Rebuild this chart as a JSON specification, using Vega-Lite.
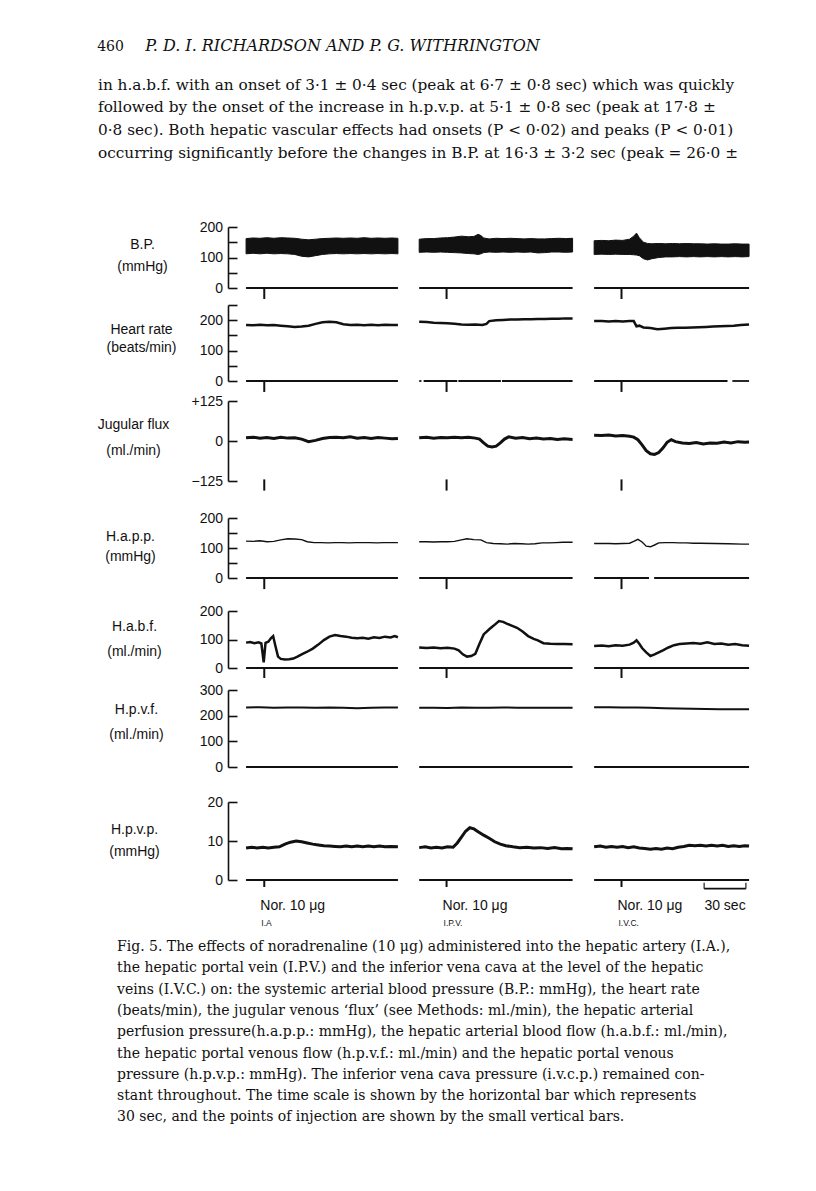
{
"$schema": "https://vega.github.io/schema/vega-lite/v6.json",
"background": "white",
"padding": {"left": 97, "top": 37, "right": 10, "bottom": 10},
"title": {"text": "460", "anchor": "start", "frame": "bounds", "font": "DejaVu Serif", "fontSize": 14, "fontWeight": "normal", "color": "#111", "offset": -16},
"datasets": {
"inj": [{"t": 26.1}, {"t": 157.3}, {"t": 283.2}],
"base": [
{"r":"bp","t0":13,"t1":122.3},{"r":"bp","t0":137.6,"t1":248},{"r":"bp","t0":263.5,"t1":375},
{"r":"hr","t0":13,"t1":122.3},{"r":"hr","t0":137.6,"t1":139.2},{"r":"hr","t0":140.8,"t1":165},{"r":"hr","t0":165.8,"t1":196.4},{"r":"hr","t0":197.2,"t1":248},{"r":"hr","t0":263.5,"t1":359.5},{"r":"hr","t0":363,"t1":375},
{"r":"happ","t0":13,"t1":122.3},{"r":"happ","t0":137.6,"t1":248},{"r":"happ","t0":263.5,"t1":303},{"r":"happ","t0":306.7,"t1":375},
{"r":"habf","t0":13,"t1":122.3},{"r":"habf","t0":137.6,"t1":248},{"r":"habf","t0":263.5,"t1":375},
{"r":"hpvf","t0":13,"t1":122.3},{"r":"hpvf","t0":137.6,"t1":248},{"r":"hpvf","t0":263.5,"t1":375},
{"r":"hpvp","t0":13,"t1":122.3},{"r":"hpvp","t0":137.6,"t1":248},{"r":"hpvp","t0":263.5,"t1":375}
],
"bp": [
{"s":1,"t":13,"lo":112,"hi":162},{"s":1,"t":18,"lo":114,"hi":164},{"s":1,"t":23,"lo":112,"hi":163},{"s":1,"t":28,"lo":114,"hi":165},{"s":1,"t":33,"lo":112,"hi":163},{"s":1,"t":38,"lo":113,"hi":165},{"s":1,"t":43,"lo":112,"hi":164},{"s":1,"t":48,"lo":110,"hi":163},{"s":1,"t":53,"lo":104,"hi":160},{"s":1,"t":58,"lo":102,"hi":158},{"s":1,"t":63,"lo":106,"hi":160},{"s":1,"t":68,"lo":110,"hi":162},{"s":1,"t":73,"lo":112,"hi":163},{"s":1,"t":78,"lo":113,"hi":164},{"s":1,"t":83,"lo":112,"hi":163},{"s":1,"t":88,"lo":113,"hi":164},{"s":1,"t":93,"lo":112,"hi":163},{"s":1,"t":98,"lo":113,"hi":165},{"s":1,"t":103,"lo":112,"hi":163},{"s":1,"t":108,"lo":113,"hi":164},{"s":1,"t":113,"lo":112,"hi":163},{"s":1,"t":118,"lo":113,"hi":164},{"s":1,"t":122.3,"lo":112,"hi":163},
{"s":2,"t":137.6,"lo":117,"hi":160},{"s":2,"t":143,"lo":118,"hi":162},{"s":2,"t":148,"lo":117,"hi":162},{"s":2,"t":153,"lo":118,"hi":164},{"s":2,"t":158,"lo":117,"hi":165},{"s":2,"t":163,"lo":116,"hi":167},{"s":2,"t":168,"lo":115,"hi":170},{"s":2,"t":173,"lo":113,"hi":168},{"s":2,"t":177,"lo":112,"hi":169},{"s":2,"t":180,"lo":110,"hi":176},{"s":2,"t":182,"lo":112,"hi":172},{"s":2,"t":184,"lo":116,"hi":164},{"s":2,"t":188,"lo":118,"hi":161},{"s":2,"t":193,"lo":117,"hi":163},{"s":2,"t":198,"lo":118,"hi":162},{"s":2,"t":203,"lo":117,"hi":163},{"s":2,"t":208,"lo":118,"hi":162},{"s":2,"t":213,"lo":117,"hi":161},{"s":2,"t":218,"lo":118,"hi":162},{"s":2,"t":223,"lo":115,"hi":161},{"s":2,"t":228,"lo":116,"hi":161},{"s":2,"t":233,"lo":118,"hi":162},{"s":2,"t":238,"lo":118,"hi":163},{"s":2,"t":243,"lo":117,"hi":162},{"s":2,"t":248,"lo":118,"hi":163},
{"s":3,"t":263.5,"lo":110,"hi":155},{"s":3,"t":269,"lo":111,"hi":156},{"s":3,"t":274,"lo":110,"hi":155},{"s":3,"t":279,"lo":111,"hi":157},{"s":3,"t":284,"lo":110,"hi":156},{"s":3,"t":289,"lo":110,"hi":160},{"s":3,"t":292,"lo":109,"hi":170},{"s":3,"t":294,"lo":108,"hi":180},{"s":3,"t":296,"lo":106,"hi":165},{"s":3,"t":299,"lo":96,"hi":150},{"s":3,"t":302,"lo":92,"hi":146},{"s":3,"t":305,"lo":96,"hi":145},{"s":3,"t":310,"lo":100,"hi":146},{"s":3,"t":315,"lo":102,"hi":145},{"s":3,"t":320,"lo":102,"hi":146},{"s":3,"t":325,"lo":103,"hi":145},{"s":3,"t":330,"lo":102,"hi":146},{"s":3,"t":335,"lo":103,"hi":145},{"s":3,"t":340,"lo":102,"hi":145},{"s":3,"t":345,"lo":103,"hi":144},{"s":3,"t":350,"lo":102,"hi":145},{"s":3,"t":355,"lo":103,"hi":144},{"s":3,"t":360,"lo":102,"hi":144},{"s":3,"t":365,"lo":103,"hi":145},{"s":3,"t":370,"lo":102,"hi":144},{"s":3,"t":375,"lo":103,"hi":144}
],
"trace": [
{"r":"hr","s":1,"t":13,"v":184},{"r":"hr","s":1,"t":18,"v":183},{"r":"hr","s":1,"t":23,"v":185},{"r":"hr","s":1,"t":28,"v":183},{"r":"hr","s":1,"t":33,"v":184},{"r":"hr","s":1,"t":38,"v":182},{"r":"hr","s":1,"t":43,"v":180},{"r":"hr","s":1,"t":48,"v":178},{"r":"hr","s":1,"t":53,"v":179},{"r":"hr","s":1,"t":58,"v":182},{"r":"hr","s":1,"t":63,"v":188},{"r":"hr","s":1,"t":68,"v":193},{"r":"hr","s":1,"t":73,"v":195},{"r":"hr","s":1,"t":78,"v":193},{"r":"hr","s":1,"t":83,"v":187},{"r":"hr","s":1,"t":88,"v":184},{"r":"hr","s":1,"t":93,"v":185},{"r":"hr","s":1,"t":98,"v":183},{"r":"hr","s":1,"t":103,"v":185},{"r":"hr","s":1,"t":108,"v":183},{"r":"hr","s":1,"t":113,"v":185},{"r":"hr","s":1,"t":118,"v":184},{"r":"hr","s":1,"t":122.3,"v":184},
{"r":"hr","s":2,"t":137.6,"v":195},{"r":"hr","s":2,"t":143,"v":194},{"r":"hr","s":2,"t":148,"v":192},{"r":"hr","s":2,"t":153,"v":191},{"r":"hr","s":2,"t":158,"v":190},{"r":"hr","s":2,"t":163,"v":188},{"r":"hr","s":2,"t":168,"v":186},{"r":"hr","s":2,"t":173,"v":185},{"r":"hr","s":2,"t":178,"v":186},{"r":"hr","s":2,"t":183,"v":184},{"r":"hr","s":2,"t":186,"v":188},{"r":"hr","s":2,"t":188,"v":197},{"r":"hr","s":2,"t":193,"v":200},{"r":"hr","s":2,"t":198,"v":201},{"r":"hr","s":2,"t":203,"v":202},{"r":"hr","s":2,"t":208,"v":202},{"r":"hr","s":2,"t":213,"v":203},{"r":"hr","s":2,"t":218,"v":203},{"r":"hr","s":2,"t":223,"v":204},{"r":"hr","s":2,"t":228,"v":204},{"r":"hr","s":2,"t":233,"v":205},{"r":"hr","s":2,"t":238,"v":205},{"r":"hr","s":2,"t":243,"v":206},{"r":"hr","s":2,"t":248,"v":206},
{"r":"hr","s":3,"t":263.5,"v":197},{"r":"hr","s":3,"t":269,"v":197},{"r":"hr","s":3,"t":274,"v":196},{"r":"hr","s":3,"t":279,"v":197},{"r":"hr","s":3,"t":284,"v":196},{"r":"hr","s":3,"t":289,"v":197},{"r":"hr","s":3,"t":292,"v":197},{"r":"hr","s":3,"t":294,"v":180},{"r":"hr","s":3,"t":296,"v":182},{"r":"hr","s":3,"t":299,"v":176},{"r":"hr","s":3,"t":304,"v":174},{"r":"hr","s":3,"t":309,"v":170},{"r":"hr","s":3,"t":314,"v":172},{"r":"hr","s":3,"t":319,"v":174},{"r":"hr","s":3,"t":324,"v":175},{"r":"hr","s":3,"t":329,"v":175},{"r":"hr","s":3,"t":334,"v":176},{"r":"hr","s":3,"t":339,"v":177},{"r":"hr","s":3,"t":344,"v":178},{"r":"hr","s":3,"t":349,"v":179},{"r":"hr","s":3,"t":354,"v":180},{"r":"hr","s":3,"t":359,"v":181},{"r":"hr","s":3,"t":364,"v":182},{"r":"hr","s":3,"t":369,"v":184},{"r":"hr","s":3,"t":375,"v":186},
{"r":"jug","s":1,"t":13,"v":10},{"r":"jug","s":1,"t":18,"v":12},{"r":"jug","s":1,"t":23,"v":9},{"r":"jug","s":1,"t":28,"v":11},{"r":"jug","s":1,"t":33,"v":8},{"r":"jug","s":1,"t":38,"v":12},{"r":"jug","s":1,"t":43,"v":9},{"r":"jug","s":1,"t":48,"v":10},{"r":"jug","s":1,"t":53,"v":6},{"r":"jug","s":1,"t":58,"v":-2},{"r":"jug","s":1,"t":63,"v":2},{"r":"jug","s":1,"t":68,"v":8},{"r":"jug","s":1,"t":73,"v":11},{"r":"jug","s":1,"t":78,"v":12},{"r":"jug","s":1,"t":83,"v":10},{"r":"jug","s":1,"t":88,"v":13},{"r":"jug","s":1,"t":93,"v":9},{"r":"jug","s":1,"t":98,"v":11},{"r":"jug","s":1,"t":103,"v":8},{"r":"jug","s":1,"t":108,"v":11},{"r":"jug","s":1,"t":113,"v":9},{"r":"jug","s":1,"t":118,"v":7},{"r":"jug","s":1,"t":122.3,"v":8},
{"r":"jug","s":2,"t":137.6,"v":10},{"r":"jug","s":2,"t":143,"v":12},{"r":"jug","s":2,"t":148,"v":9},{"r":"jug","s":2,"t":153,"v":11},{"r":"jug","s":2,"t":158,"v":10},{"r":"jug","s":2,"t":163,"v":12},{"r":"jug","s":2,"t":168,"v":10},{"r":"jug","s":2,"t":173,"v":12},{"r":"jug","s":2,"t":178,"v":9},{"r":"jug","s":2,"t":181,"v":6},{"r":"jug","s":2,"t":184,"v":-6},{"r":"jug","s":2,"t":187,"v":-16},{"r":"jug","s":2,"t":190,"v":-19},{"r":"jug","s":2,"t":193,"v":-16},{"r":"jug","s":2,"t":196,"v":-6},{"r":"jug","s":2,"t":199,"v":6},{"r":"jug","s":2,"t":202,"v":13},{"r":"jug","s":2,"t":207,"v":9},{"r":"jug","s":2,"t":212,"v":11},{"r":"jug","s":2,"t":217,"v":7},{"r":"jug","s":2,"t":222,"v":9},{"r":"jug","s":2,"t":227,"v":6},{"r":"jug","s":2,"t":232,"v":8},{"r":"jug","s":2,"t":237,"v":5},{"r":"jug","s":2,"t":242,"v":7},{"r":"jug","s":2,"t":248,"v":5},
{"r":"jug","s":3,"t":263.5,"v":18},{"r":"jug","s":3,"t":269,"v":17},{"r":"jug","s":3,"t":274,"v":19},{"r":"jug","s":3,"t":279,"v":16},{"r":"jug","s":3,"t":284,"v":17},{"r":"jug","s":3,"t":289,"v":15},{"r":"jug","s":3,"t":292,"v":12},{"r":"jug","s":3,"t":295,"v":4},{"r":"jug","s":3,"t":298,"v":-12},{"r":"jug","s":3,"t":301,"v":-30},{"r":"jug","s":3,"t":304,"v":-40},{"r":"jug","s":3,"t":307,"v":-42},{"r":"jug","s":3,"t":310,"v":-36},{"r":"jug","s":3,"t":313,"v":-22},{"r":"jug","s":3,"t":316,"v":-4},{"r":"jug","s":3,"t":319,"v":4},{"r":"jug","s":3,"t":322,"v":-2},{"r":"jug","s":3,"t":327,"v":-6},{"r":"jug","s":3,"t":332,"v":-8},{"r":"jug","s":3,"t":337,"v":-5},{"r":"jug","s":3,"t":342,"v":-9},{"r":"jug","s":3,"t":347,"v":-6},{"r":"jug","s":3,"t":352,"v":-7},{"r":"jug","s":3,"t":357,"v":-3},{"r":"jug","s":3,"t":362,"v":-6},{"r":"jug","s":3,"t":367,"v":-2},{"r":"jug","s":3,"t":372,"v":-4},{"r":"jug","s":3,"t":375,"v":-3},
{"r":"happ","s":1,"t":13,"v":123},{"r":"happ","s":1,"t":18,"v":122},{"r":"happ","s":1,"t":23,"v":124},{"r":"happ","s":1,"t":28,"v":121},{"r":"happ","s":1,"t":33,"v":122},{"r":"happ","s":1,"t":38,"v":127},{"r":"happ","s":1,"t":43,"v":131},{"r":"happ","s":1,"t":48,"v":130},{"r":"happ","s":1,"t":53,"v":128},{"r":"happ","s":1,"t":57,"v":121},{"r":"happ","s":1,"t":62,"v":118},{"r":"happ","s":1,"t":67,"v":118},{"r":"happ","s":1,"t":72,"v":117},{"r":"happ","s":1,"t":77,"v":118},{"r":"happ","s":1,"t":82,"v":118},{"r":"happ","s":1,"t":87,"v":117},{"r":"happ","s":1,"t":92,"v":118},{"r":"happ","s":1,"t":97,"v":118},{"r":"happ","s":1,"t":102,"v":118},{"r":"happ","s":1,"t":107,"v":117},{"r":"happ","s":1,"t":112,"v":118},{"r":"happ","s":1,"t":117,"v":118},{"r":"happ","s":1,"t":122.3,"v":118},
{"r":"happ","s":2,"t":137.6,"v":121},{"r":"happ","s":2,"t":143,"v":121},{"r":"happ","s":2,"t":148,"v":120},{"r":"happ","s":2,"t":153,"v":121},{"r":"happ","s":2,"t":158,"v":121},{"r":"happ","s":2,"t":163,"v":122},{"r":"happ","s":2,"t":168,"v":127},{"r":"happ","s":2,"t":172,"v":131},{"r":"happ","s":2,"t":177,"v":128},{"r":"happ","s":2,"t":182,"v":127},{"r":"happ","s":2,"t":186,"v":118},{"r":"happ","s":2,"t":191,"v":115},{"r":"happ","s":2,"t":196,"v":114},{"r":"happ","s":2,"t":201,"v":113},{"r":"happ","s":2,"t":206,"v":115},{"r":"happ","s":2,"t":211,"v":114},{"r":"happ","s":2,"t":216,"v":113},{"r":"happ","s":2,"t":221,"v":114},{"r":"happ","s":2,"t":226,"v":117},{"r":"happ","s":2,"t":231,"v":117},{"r":"happ","s":2,"t":236,"v":118},{"r":"happ","s":2,"t":241,"v":119},{"r":"happ","s":2,"t":248,"v":119},
{"r":"happ","s":3,"t":263.5,"v":115},{"r":"happ","s":3,"t":269,"v":115},{"r":"happ","s":3,"t":274,"v":115},{"r":"happ","s":3,"t":279,"v":114},{"r":"happ","s":3,"t":284,"v":115},{"r":"happ","s":3,"t":289,"v":116},{"r":"happ","s":3,"t":292,"v":122},{"r":"happ","s":3,"t":295,"v":129},{"r":"happ","s":3,"t":298,"v":120},{"r":"happ","s":3,"t":301,"v":106},{"r":"happ","s":3,"t":304,"v":104},{"r":"happ","s":3,"t":307,"v":110},{"r":"happ","s":3,"t":310,"v":117},{"r":"happ","s":3,"t":315,"v":118},{"r":"happ","s":3,"t":320,"v":118},{"r":"happ","s":3,"t":325,"v":117},{"r":"happ","s":3,"t":330,"v":117},{"r":"happ","s":3,"t":335,"v":116},{"r":"happ","s":3,"t":340,"v":116},{"r":"happ","s":3,"t":350,"v":115},{"r":"happ","s":3,"t":360,"v":114},{"r":"happ","s":3,"t":370,"v":113},{"r":"happ","s":3,"t":375,"v":113},
{"r":"habf","s":1,"t":13,"v":89},{"r":"habf","s":1,"t":16,"v":91},{"r":"habf","s":1,"t":19,"v":87},{"r":"habf","s":1,"t":22,"v":90},{"r":"habf","s":1,"t":24,"v":86},{"r":"habf","s":1,"t":25.7,"v":20},{"r":"habf","s":1,"t":27,"v":88},{"r":"habf","s":1,"t":29,"v":92},{"r":"habf","s":1,"t":31,"v":105},{"r":"habf","s":1,"t":32.5,"v":112},{"r":"habf","s":1,"t":34,"v":80},{"r":"habf","s":1,"t":36,"v":40},{"r":"habf","s":1,"t":38,"v":32},{"r":"habf","s":1,"t":41,"v":30},{"r":"habf","s":1,"t":44,"v":31},{"r":"habf","s":1,"t":47,"v":33},{"r":"habf","s":1,"t":50,"v":40},{"r":"habf","s":1,"t":53,"v":48},{"r":"habf","s":1,"t":57,"v":57},{"r":"habf","s":1,"t":61,"v":68},{"r":"habf","s":1,"t":65,"v":82},{"r":"habf","s":1,"t":69,"v":98},{"r":"habf","s":1,"t":73,"v":110},{"r":"habf","s":1,"t":77,"v":116},{"r":"habf","s":1,"t":81,"v":112},{"r":"habf","s":1,"t":85,"v":110},{"r":"habf","s":1,"t":89,"v":106},{"r":"habf","s":1,"t":93,"v":104},{"r":"habf","s":1,"t":97,"v":106},{"r":"habf","s":1,"t":101,"v":103},{"r":"habf","s":1,"t":105,"v":108},{"r":"habf","s":1,"t":109,"v":105},{"r":"habf","s":1,"t":113,"v":110},{"r":"habf","s":1,"t":117,"v":107},{"r":"habf","s":1,"t":120,"v":112},{"r":"habf","s":1,"t":122.3,"v":108},
{"r":"habf","s":2,"t":137.6,"v":72},{"r":"habf","s":2,"t":143,"v":70},{"r":"habf","s":2,"t":148,"v":72},{"r":"habf","s":2,"t":153,"v":69},{"r":"habf","s":2,"t":158,"v":71},{"r":"habf","s":2,"t":163,"v":68},{"r":"habf","s":2,"t":166,"v":62},{"r":"habf","s":2,"t":169,"v":48},{"r":"habf","s":2,"t":172,"v":40},{"r":"habf","s":2,"t":175,"v":42},{"r":"habf","s":2,"t":178,"v":50},{"r":"habf","s":2,"t":181,"v":85},{"r":"habf","s":2,"t":184,"v":118},{"r":"habf","s":2,"t":188,"v":136},{"r":"habf","s":2,"t":191,"v":148},{"r":"habf","s":2,"t":195,"v":165},{"r":"habf","s":2,"t":198,"v":162},{"r":"habf","s":2,"t":201,"v":155},{"r":"habf","s":2,"t":205,"v":147},{"r":"habf","s":2,"t":208,"v":141},{"r":"habf","s":2,"t":212,"v":128},{"r":"habf","s":2,"t":216,"v":112},{"r":"habf","s":2,"t":220,"v":102},{"r":"habf","s":2,"t":223,"v":97},{"r":"habf","s":2,"t":227,"v":87},{"r":"habf","s":2,"t":232,"v":85},{"r":"habf","s":2,"t":237,"v":84},{"r":"habf","s":2,"t":242,"v":84},{"r":"habf","s":2,"t":248,"v":83},
{"r":"habf","s":3,"t":263.5,"v":77},{"r":"habf","s":3,"t":269,"v":79},{"r":"habf","s":3,"t":274,"v":76},{"r":"habf","s":3,"t":279,"v":80},{"r":"habf","s":3,"t":284,"v":78},{"r":"habf","s":3,"t":289,"v":82},{"r":"habf","s":3,"t":292,"v":89},{"r":"habf","s":3,"t":294,"v":97},{"r":"habf","s":3,"t":296,"v":85},{"r":"habf","s":3,"t":298,"v":70},{"r":"habf","s":3,"t":301,"v":55},{"r":"habf","s":3,"t":304,"v":42},{"r":"habf","s":3,"t":307,"v":48},{"r":"habf","s":3,"t":310,"v":55},{"r":"habf","s":3,"t":313,"v":62},{"r":"habf","s":3,"t":317,"v":72},{"r":"habf","s":3,"t":321,"v":80},{"r":"habf","s":3,"t":325,"v":84},{"r":"habf","s":3,"t":330,"v":86},{"r":"habf","s":3,"t":335,"v":88},{"r":"habf","s":3,"t":340,"v":85},{"r":"habf","s":3,"t":345,"v":90},{"r":"habf","s":3,"t":350,"v":84},{"r":"habf","s":3,"t":355,"v":86},{"r":"habf","s":3,"t":360,"v":82},{"r":"habf","s":3,"t":365,"v":84},{"r":"habf","s":3,"t":370,"v":80},{"r":"habf","s":3,"t":375,"v":78},
{"r":"hpvf","s":1,"t":13,"v":232},{"r":"hpvf","s":1,"t":23,"v":233},{"r":"hpvf","s":1,"t":33,"v":231},{"r":"hpvf","s":1,"t":43,"v":232},{"r":"hpvf","s":1,"t":53,"v":232},{"r":"hpvf","s":1,"t":63,"v":231},{"r":"hpvf","s":1,"t":73,"v":232},{"r":"hpvf","s":1,"t":83,"v":231},{"r":"hpvf","s":1,"t":93,"v":229},{"r":"hpvf","s":1,"t":103,"v":231},{"r":"hpvf","s":1,"t":113,"v":232},{"r":"hpvf","s":1,"t":122.3,"v":232},
{"r":"hpvf","s":2,"t":137.6,"v":231},{"r":"hpvf","s":2,"t":148,"v":231},{"r":"hpvf","s":2,"t":158,"v":230},{"r":"hpvf","s":2,"t":168,"v":232},{"r":"hpvf","s":2,"t":178,"v":231},{"r":"hpvf","s":2,"t":188,"v":231},{"r":"hpvf","s":2,"t":198,"v":232},{"r":"hpvf","s":2,"t":208,"v":231},{"r":"hpvf","s":2,"t":218,"v":231},{"r":"hpvf","s":2,"t":228,"v":231},{"r":"hpvf","s":2,"t":238,"v":231},{"r":"hpvf","s":2,"t":248,"v":231},
{"r":"hpvf","s":3,"t":263.5,"v":233},{"r":"hpvf","s":3,"t":274,"v":233},{"r":"hpvf","s":3,"t":284,"v":232},{"r":"hpvf","s":3,"t":294,"v":232},{"r":"hpvf","s":3,"t":304,"v":231},{"r":"hpvf","s":3,"t":314,"v":229},{"r":"hpvf","s":3,"t":324,"v":228},{"r":"hpvf","s":3,"t":334,"v":227},{"r":"hpvf","s":3,"t":344,"v":226},{"r":"hpvf","s":3,"t":354,"v":225},{"r":"hpvf","s":3,"t":364,"v":225},{"r":"hpvf","s":3,"t":375,"v":225},
{"r":"hpvp","s":1,"t":13,"v":8.2},{"r":"hpvp","s":1,"t":17,"v":8.4},{"r":"hpvp","s":1,"t":21,"v":8.2},{"r":"hpvp","s":1,"t":25,"v":8.4},{"r":"hpvp","s":1,"t":29,"v":8.2},{"r":"hpvp","s":1,"t":33,"v":8.4},{"r":"hpvp","s":1,"t":37,"v":8.5},{"r":"hpvp","s":1,"t":41,"v":9.2},{"r":"hpvp","s":1,"t":45,"v":9.7},{"r":"hpvp","s":1,"t":49,"v":10.0},{"r":"hpvp","s":1,"t":53,"v":9.8},{"r":"hpvp","s":1,"t":57,"v":9.5},{"r":"hpvp","s":1,"t":61,"v":9.2},{"r":"hpvp","s":1,"t":65,"v":9.0},{"r":"hpvp","s":1,"t":69,"v":8.8},{"r":"hpvp","s":1,"t":73,"v":8.7},{"r":"hpvp","s":1,"t":77,"v":8.6},{"r":"hpvp","s":1,"t":81,"v":8.5},{"r":"hpvp","s":1,"t":85,"v":8.7},{"r":"hpvp","s":1,"t":89,"v":8.5},{"r":"hpvp","s":1,"t":93,"v":8.7},{"r":"hpvp","s":1,"t":97,"v":8.5},{"r":"hpvp","s":1,"t":101,"v":8.7},{"r":"hpvp","s":1,"t":105,"v":8.5},{"r":"hpvp","s":1,"t":109,"v":8.7},{"r":"hpvp","s":1,"t":113,"v":8.5},{"r":"hpvp","s":1,"t":117,"v":8.6},{"r":"hpvp","s":1,"t":122.3,"v":8.5},
{"r":"hpvp","s":2,"t":137.6,"v":8.3},{"r":"hpvp","s":2,"t":142,"v":8.5},{"r":"hpvp","s":2,"t":146,"v":8.2},{"r":"hpvp","s":2,"t":150,"v":8.4},{"r":"hpvp","s":2,"t":154,"v":8.2},{"r":"hpvp","s":2,"t":158,"v":8.5},{"r":"hpvp","s":2,"t":162,"v":8.4},{"r":"hpvp","s":2,"t":165,"v":9.5},{"r":"hpvp","s":2,"t":168,"v":11.0},{"r":"hpvp","s":2,"t":171,"v":12.5},{"r":"hpvp","s":2,"t":174,"v":13.4},{"r":"hpvp","s":2,"t":177,"v":13.1},{"r":"hpvp","s":2,"t":180,"v":12.4},{"r":"hpvp","s":2,"t":184,"v":11.5},{"r":"hpvp","s":2,"t":188,"v":10.7},{"r":"hpvp","s":2,"t":192,"v":9.8},{"r":"hpvp","s":2,"t":196,"v":9.2},{"r":"hpvp","s":2,"t":200,"v":8.8},{"r":"hpvp","s":2,"t":205,"v":8.5},{"r":"hpvp","s":2,"t":210,"v":8.3},{"r":"hpvp","s":2,"t":215,"v":8.4},{"r":"hpvp","s":2,"t":220,"v":8.2},{"r":"hpvp","s":2,"t":225,"v":8.3},{"r":"hpvp","s":2,"t":230,"v":8.1},{"r":"hpvp","s":2,"t":235,"v":8.3},{"r":"hpvp","s":2,"t":240,"v":8.0},{"r":"hpvp","s":2,"t":244,"v":8.1},{"r":"hpvp","s":2,"t":248,"v":8.0},
{"r":"hpvp","s":3,"t":263.5,"v":8.5},{"r":"hpvp","s":3,"t":268,"v":8.7},{"r":"hpvp","s":3,"t":272,"v":8.4},{"r":"hpvp","s":3,"t":276,"v":8.6},{"r":"hpvp","s":3,"t":280,"v":8.4},{"r":"hpvp","s":3,"t":284,"v":8.6},{"r":"hpvp","s":3,"t":288,"v":8.3},{"r":"hpvp","s":3,"t":292,"v":8.5},{"r":"hpvp","s":3,"t":296,"v":8.2},{"r":"hpvp","s":3,"t":300,"v":8.1},{"r":"hpvp","s":3,"t":304,"v":7.9},{"r":"hpvp","s":3,"t":308,"v":8.1},{"r":"hpvp","s":3,"t":312,"v":7.9},{"r":"hpvp","s":3,"t":316,"v":8.2},{"r":"hpvp","s":3,"t":320,"v":8.0},{"r":"hpvp","s":3,"t":324,"v":8.4},{"r":"hpvp","s":3,"t":328,"v":8.6},{"r":"hpvp","s":3,"t":332,"v":8.9},{"r":"hpvp","s":3,"t":336,"v":8.8},{"r":"hpvp","s":3,"t":340,"v":8.9},{"r":"hpvp","s":3,"t":344,"v":8.7},{"r":"hpvp","s":3,"t":348,"v":8.9},{"r":"hpvp","s":3,"t":352,"v":8.7},{"r":"hpvp","s":3,"t":356,"v":8.9},{"r":"hpvp","s":3,"t":360,"v":8.6},{"r":"hpvp","s":3,"t":364,"v":8.8},{"r":"hpvp","s":3,"t":368,"v":8.6},{"r":"hpvp","s":3,"t":372,"v":8.8},{"r":"hpvp","s":3,"t":375,"v":8.7}
],
"ann": [
{"k":"nor","t":26.1,"row":"l1","txt":"Nor. 10 μg"},{"k":"nor","t":157.3,"row":"l1","txt":"Nor. 10 μg"},{"k":"nor","t":283.2,"row":"l1","txt":"Nor. 10 μg"},
{"k":"site","t":26.1,"row":"l2","txt":"I.A"},{"k":"site","t":157.3,"row":"l2","txt":"I.P.V."},{"k":"site","t":283.2,"row":"l2","txt":"I.V.C."},
{"k":"sec","t":357.7,"row":"l1","txt":"30 sec"},
{"k":"bar","t":342.7,"t2":372.7,"row":"bar"},
{"k":"end","t":342.7,"row":"bar"},{"k":"end","t":372.7,"row":"bar"}
]
},
"resolve": {"scale": {"x": "independent", "y": "independent"}, "axis": {"x": "independent", "y": "independent"}},
"vconcat": [
{
"title": {"text": "P. D. I. RICHARDSON AND P. G. WITHRINGTON", "anchor": "start", "frame": "bounds", "dx": 48, "font": "DejaVu Serif", "fontStyle": "italic", "fontSize": 16, "fontWeight": "normal", "color": "#111", "offset": 24},
"spacing": 0,
"bounds": "flush",
"resolve": {"scale": {"x": "independent", "y": "independent"}, "axis": {"x": "independent", "y": "independent"}},
"vconcat": [
{
"width": 528, "height": 87,
"title": {"text": ["in h.a.b.f. with an onset of 3·1 ± 0·4 sec (peak at 6·7 ± 0·8 sec) which was quickly", "followed by the onset of the increase in h.p.v.p. at 5·1 ± 0·8 sec (peak at 17·8 ±", "0·8 sec). Both hepatic vascular effects had onsets (P < 0·02) and peaks (P < 0·01)", "occurring significantly before the changes in B.P. at 16·3 ± 3·2 sec (peak = 26·0 ±"], "anchor": "start", "frame": "group", "dx": -130, "font": "DejaVu Serif", "fontSize": 15.3, "fontWeight": "normal", "lineHeight": 22.7, "color": "#111", "offset": 40},
"layer": [
{"data": {"name": "base"}, "transform": [{"filter": "datum.r === 'bp'"}], "mark": {"type": "rule", "color": "#111", "strokeWidth": 1.8},
 "encoding": {"x": {"field": "t0", "type": "quantitative", "scale": {"domain": [0, 380], "nice": false, "zero": false}, "axis": null}, "x2": {"field": "t1"}, "y": {"datum": 0, "type": "quantitative", "scale": {"domain": [0, 200], "range": [87, 26], "nice": false, "zero": false}, "axis": {"values": [0, 50, 100, 150, 200], "labelExpr": "datum.value % 100 === 0 ? datum.label : ''", "title": ["B.P.", "(mmHg)"], "titleX": -86, "titleY": 43, "titleLineHeight": 22}}}},
{"data": {"name": "bp"}, "mark": {"type": "area", "color": "#111", "stroke": "#111", "strokeWidth": 1},
 "encoding": {"x": {"field": "t", "type": "quantitative", "scale": {"domain": [0, 380], "nice": false, "zero": false}, "axis": null}, "y": {"field": "hi", "type": "quantitative", "scale": {"domain": [0, 200], "range": [87, 26], "nice": false, "zero": false}, "axis": {"values": [0, 50, 100, 150, 200], "labelExpr": "datum.value % 100 === 0 ? datum.label : ''", "title": ["B.P.", "(mmHg)"], "titleX": -86, "titleY": 43, "titleLineHeight": 22}}, "y2": {"field": "lo"}, "detail": {"field": "s"}}},
{"data": {"name": "inj"}, "mark": {"type": "rule", "color": "#111", "strokeWidth": 2},
 "encoding": {"x": {"field": "t", "type": "quantitative", "scale": {"domain": [0, 380], "nice": false, "zero": false}, "axis": null}, "y": {"datum": 0, "type": "quantitative", "scale": {"domain": [0, 200], "range": [87, 26], "nice": false, "zero": false}, "axis": {"values": [0, 50, 100, 150, 200], "labelExpr": "datum.value % 100 === 0 ? datum.label : ''", "title": ["B.P.", "(mmHg)"], "titleX": -86, "titleY": 43, "titleLineHeight": 22}}, "y2": {"datum": -36}}}
]
},
{
"width": 528, "height": 93,
"layer": [
{"data": {"name": "base"}, "transform": [{"filter": "datum.r === 'hr'"}], "mark": {"type": "rule", "color": "#111", "strokeWidth": 1.8},
 "encoding": {"x": {"field": "t0", "type": "quantitative", "scale": {"domain": [0, 380], "nice": false, "zero": false}, "axis": null}, "x2": {"field": "t1"}, "y": {"datum": 0, "type": "quantitative", "scale": {"domain": [0, 250], "range": [93, 17], "nice": false, "zero": false}, "axis": {"values": [0, 50, 100, 150, 200, 250], "labelExpr": "datum.value % 100 === 0 ? datum.label : ''", "title": ["Heart rate", "(beats/min)"], "titleX": -87, "titleY": 41, "titleLineHeight": 18}}}},
{"data": {"name": "trace"}, "transform": [{"filter": "datum.r === 'hr'"}], "mark": {"type": "line", "color": "#111", "strokeWidth": 2.5},
 "encoding": {"x": {"field": "t", "type": "quantitative", "scale": {"domain": [0, 380], "nice": false, "zero": false}, "axis": null}, "y": {"field": "v", "type": "quantitative", "scale": {"domain": [0, 250], "range": [93, 17], "nice": false, "zero": false}, "axis": {"values": [0, 50, 100, 150, 200, 250], "labelExpr": "datum.value % 100 === 0 ? datum.label : ''", "title": ["Heart rate", "(beats/min)"], "titleX": -87, "titleY": 41, "titleLineHeight": 18}}, "detail": {"field": "s"}}},
{"data": {"name": "inj"}, "mark": {"type": "rule", "color": "#111", "strokeWidth": 2},
 "encoding": {"x": {"field": "t", "type": "quantitative", "scale": {"domain": [0, 380], "nice": false, "zero": false}, "axis": null}, "y": {"datum": 0, "type": "quantitative", "scale": {"domain": [0, 250], "range": [93, 17], "nice": false, "zero": false}, "axis": {"values": [0, 50, 100, 150, 200, 250], "labelExpr": "datum.value % 100 === 0 ? datum.label : ''", "title": ["Heart rate", "(beats/min)"], "titleX": -87, "titleY": 41, "titleLineHeight": 18}}, "y2": {"datum": -36}}}
]
},
{
"width": 528, "height": 100,
"layer": [
{"data": {"name": "trace"}, "transform": [{"filter": "datum.r === 'jug'"}], "mark": {"type": "line", "color": "#111", "strokeWidth": 3},
 "encoding": {"x": {"field": "t", "type": "quantitative", "scale": {"domain": [0, 380], "nice": false, "zero": false}, "axis": null}, "y": {"field": "v", "type": "quantitative", "scale": {"domain": [-125, 125], "range": [100, 20], "nice": false, "zero": false}, "axis": {"values": [-125, 0, 125], "labelExpr": "datum.value > 0 ? '+' + datum.label : datum.label", "title": ["Jugular flux", "(ml./min)"], "titleX": -95, "titleY": 43, "titleLineHeight": 26}}, "detail": {"field": "s"}}},
{"data": {"name": "inj"}, "mark": {"type": "rule", "color": "#111", "strokeWidth": 2},
 "encoding": {"x": {"field": "t", "type": "quantitative", "scale": {"domain": [0, 380], "nice": false, "zero": false}, "axis": null}, "y": {"datum": -120, "type": "quantitative", "scale": {"domain": [-125, 125], "range": [100, 20], "nice": false, "zero": false}, "axis": {"values": [-125, 0, 125], "labelExpr": "datum.value > 0 ? '+' + datum.label : datum.label", "title": ["Jugular flux", "(ml./min)"], "titleX": -95, "titleY": 43, "titleLineHeight": 26}}, "y2": {"datum": -155}}}
]
},
{
"width": 528, "height": 97,
"layer": [
{"data": {"name": "base"}, "transform": [{"filter": "datum.r === 'happ'"}], "mark": {"type": "rule", "color": "#111", "strokeWidth": 1.8},
 "encoding": {"x": {"field": "t0", "type": "quantitative", "scale": {"domain": [0, 380], "nice": false, "zero": false}, "axis": null}, "x2": {"field": "t1"}, "y": {"datum": 0, "type": "quantitative", "scale": {"domain": [0, 200], "range": [97, 37], "nice": false, "zero": false}, "axis": {"values": [0, 50, 100, 150, 200], "labelExpr": "datum.value % 100 === 0 ? datum.label : ''", "title": ["H.a.p.p.", "(mmHg)"], "titleX": -98, "titleY": 55, "titleLineHeight": 20}}}},
{"data": {"name": "trace"}, "transform": [{"filter": "datum.r === 'happ'"}], "mark": {"type": "line", "color": "#111", "strokeWidth": 1.4},
 "encoding": {"x": {"field": "t", "type": "quantitative", "scale": {"domain": [0, 380], "nice": false, "zero": false}, "axis": null}, "y": {"field": "v", "type": "quantitative", "scale": {"domain": [0, 200], "range": [97, 37], "nice": false, "zero": false}, "axis": {"values": [0, 50, 100, 150, 200], "labelExpr": "datum.value % 100 === 0 ? datum.label : ''", "title": ["H.a.p.p.", "(mmHg)"], "titleX": -98, "titleY": 55, "titleLineHeight": 20}}, "detail": {"field": "s"}}},
{"data": {"name": "inj"}, "mark": {"type": "rule", "color": "#111", "strokeWidth": 2},
 "encoding": {"x": {"field": "t", "type": "quantitative", "scale": {"domain": [0, 380], "nice": false, "zero": false}, "axis": null}, "y": {"datum": 0, "type": "quantitative", "scale": {"domain": [0, 200], "range": [97, 37], "nice": false, "zero": false}, "axis": {"values": [0, 50, 100, 150, 200], "labelExpr": "datum.value % 100 === 0 ? datum.label : ''", "title": ["H.a.p.p.", "(mmHg)"], "titleX": -98, "titleY": 55, "titleLineHeight": 20}}, "y2": {"datum": -37}}}
]
},
{
"width": 528, "height": 90,
"layer": [
{"data": {"name": "base"}, "transform": [{"filter": "datum.r === 'habf'"}], "mark": {"type": "rule", "color": "#111", "strokeWidth": 1.8},
 "encoding": {"x": {"field": "t0", "type": "quantitative", "scale": {"domain": [0, 380], "nice": false, "zero": false}, "axis": null}, "x2": {"field": "t1"}, "y": {"datum": 0, "type": "quantitative", "scale": {"domain": [0, 200], "range": [90, 33], "nice": false, "zero": false}, "axis": {"values": [0, 100, 200], "title": ["H.a.b.f.", "(ml./min)"], "titleX": -94, "titleY": 48, "titleLineHeight": 25}}}},
{"data": {"name": "trace"}, "transform": [{"filter": "datum.r === 'habf'"}], "mark": {"type": "line", "color": "#111", "strokeWidth": 2.5},
 "encoding": {"x": {"field": "t", "type": "quantitative", "scale": {"domain": [0, 380], "nice": false, "zero": false}, "axis": null}, "y": {"field": "v", "type": "quantitative", "scale": {"domain": [0, 200], "range": [90, 33], "nice": false, "zero": false}, "axis": {"values": [0, 100, 200], "title": ["H.a.b.f.", "(ml./min)"], "titleX": -94, "titleY": 48, "titleLineHeight": 25}}, "detail": {"field": "s"}}},
{"data": {"name": "inj"}, "mark": {"type": "rule", "color": "#111", "strokeWidth": 2},
 "encoding": {"x": {"field": "t", "type": "quantitative", "scale": {"domain": [0, 380], "nice": false, "zero": false}, "axis": null}, "y": {"datum": 0, "type": "quantitative", "scale": {"domain": [0, 200], "range": [90, 33], "nice": false, "zero": false}, "axis": {"values": [0, 100, 200], "title": ["H.a.b.f.", "(ml./min)"], "titleX": -94, "titleY": 48, "titleLineHeight": 25}}, "y2": {"datum": -35}}}
]
},
{
"width": 528, "height": 99,
"layer": [
{"data": {"name": "base"}, "transform": [{"filter": "datum.r === 'hpvf'"}], "mark": {"type": "rule", "color": "#111", "strokeWidth": 1.8},
 "encoding": {"x": {"field": "t0", "type": "quantitative", "scale": {"domain": [0, 380], "nice": false, "zero": false}, "axis": null}, "x2": {"field": "t1"}, "y": {"datum": 0, "type": "quantitative", "scale": {"domain": [0, 300], "range": [99, 22], "nice": false, "zero": false}, "axis": {"values": [0, 100, 200, 300], "title": ["H.p.v.f.", "(ml./min)"], "titleX": -92, "titleY": 41, "titleLineHeight": 25}}}},
{"data": {"name": "trace"}, "transform": [{"filter": "datum.r === 'hpvf'"}], "mark": {"type": "line", "color": "#111", "strokeWidth": 2},
 "encoding": {"x": {"field": "t", "type": "quantitative", "scale": {"domain": [0, 380], "nice": false, "zero": false}, "axis": null}, "y": {"field": "v", "type": "quantitative", "scale": {"domain": [0, 300], "range": [99, 22], "nice": false, "zero": false}, "axis": {"values": [0, 100, 200, 300], "title": ["H.p.v.f.", "(ml./min)"], "titleX": -92, "titleY": 41, "titleLineHeight": 25}}, "detail": {"field": "s"}}}
]
},
{
"width": 528, "height": 113,
"layer": [
{"data": {"name": "base"}, "transform": [{"filter": "datum.r === 'hpvp'"}], "mark": {"type": "rule", "color": "#111", "strokeWidth": 1.8},
 "encoding": {"x": {"field": "t0", "type": "quantitative", "scale": {"domain": [0, 380], "nice": false, "zero": false}, "axis": null}, "x2": {"field": "t1"}, "y": {"datum": 0, "type": "quantitative", "scale": {"domain": [0, 20], "range": [113, 35], "nice": false, "zero": false}, "axis": {"values": [0, 10, 20], "title": ["H.p.v.p.", "(mmHg)"], "titleX": -94, "titleY": 62, "titleLineHeight": 22}}}},
{"data": {"name": "trace"}, "transform": [{"filter": "datum.r === 'hpvp'"}], "mark": {"type": "line", "color": "#111", "strokeWidth": 3},
 "encoding": {"x": {"field": "t", "type": "quantitative", "scale": {"domain": [0, 380], "nice": false, "zero": false}, "axis": null}, "y": {"field": "v", "type": "quantitative", "scale": {"domain": [0, 20], "range": [113, 35], "nice": false, "zero": false}, "axis": {"values": [0, 10, 20], "title": ["H.p.v.p.", "(mmHg)"], "titleX": -94, "titleY": 62, "titleLineHeight": 22}}, "detail": {"field": "s"}}},
{"data": {"name": "inj"}, "mark": {"type": "rule", "color": "#111", "strokeWidth": 2},
 "encoding": {"x": {"field": "t", "type": "quantitative", "scale": {"domain": [0, 380], "nice": false, "zero": false}, "axis": null}, "y": {"datum": 0, "type": "quantitative", "scale": {"domain": [0, 20], "range": [113, 35], "nice": false, "zero": false}, "axis": {"values": [0, 10, 20], "title": ["H.p.v.p.", "(mmHg)"], "titleX": -94, "titleY": 62, "titleLineHeight": 22}}, "y2": {"datum": -1.8}}}
]
},
{
"width": 528, "height": 52,
"data": {"name": "ann"},
"title": {"text": ["Fig. 5. The effects of noradrenaline (10 μg) administered into the hepatic artery (I.A.),", "the hepatic portal vein (I.P.V.) and the inferior vena cava at the level of the hepatic", "veins (I.V.C.) on: the systemic arterial blood pressure (B.P.: mmHg), the heart rate", "(beats/min), the jugular venous ‘flux’ (see Methods: ml./min), the hepatic arterial", "perfusion pressure(h.a.p.p.: mmHg), the hepatic arterial blood flow (h.a.b.f.: ml./min),", "the hepatic portal venous flow (h.p.v.f.: ml./min) and the hepatic portal venous", "pressure (h.p.v.p.: mmHg). The inferior vena cava pressure (i.v.c.p.) remained con-", "stant throughout. The time scale is shown by the horizontal bar which represents", "30 sec, and the points of injection are shown by the small vertical bars."], "orient": "bottom", "anchor": "start", "frame": "group", "dx": -111, "font": "DejaVu Serif", "fontSize": 14, "fontWeight": "normal", "lineHeight": 21.3, "color": "#111", "offset": 8},
"encoding": {
 "x": {"field": "t", "type": "quantitative", "scale": {"domain": [0, 380], "nice": false, "zero": false}, "axis": null},
 "y": {"field": "row", "type": "ordinal", "scale": {"type": "point", "domain": ["bar", "l1", "l2"], "padding": 0.5}, "axis": null}
},
"layer": [
{"transform": [{"filter": "datum.k === 'nor'"}], "mark": {"type": "text", "align": "left", "baseline": "middle", "dx": -4, "font": "Liberation Sans", "fontSize": 14, "color": "#111"}, "encoding": {"text": {"field": "txt"}}},
{"transform": [{"filter": "datum.k === 'site'"}], "mark": {"type": "text", "align": "left", "baseline": "middle", "dx": -3, "font": "Liberation Sans", "fontSize": 8.5, "color": "#111"}, "encoding": {"text": {"field": "txt"}}},
{"transform": [{"filter": "datum.k === 'sec'"}], "mark": {"type": "text", "align": "center", "baseline": "middle", "font": "Liberation Sans", "fontSize": 14, "color": "#111"}, "encoding": {"text": {"field": "txt"}}},
{"transform": [{"filter": "datum.k === 'bar'"}], "mark": {"type": "rule", "color": "#111", "strokeWidth": 1.6}, "encoding": {"x2": {"field": "t2"}}},
{"transform": [{"filter": "datum.k === 'end'"}], "mark": {"type": "tick", "orient": "vertical", "color": "#111", "size": 6, "thickness": 1.6, "yOffset": -3}}
]
}
]
}
],
"config": {
 "view": {"stroke": null},
 "font": "Liberation Sans",
 "axis": {"domainColor": "#111", "domainWidth": 1.6, "tickColor": "#111", "tickWidth": 1.6, "tickSize": -9, "labelPadding": 14.5, "labelFont": "Liberation Sans", "labelFontSize": 14, "labelColor": "#111", "labelFlush": false, "labelOverlap": false, "titleFont": "Liberation Sans", "titleFontSize": 14, "titleFontWeight": "normal", "titleColor": "#111", "titleAngle": 0, "titleAlign": "center", "titleBaseline": "middle", "grid": false}
}
}
